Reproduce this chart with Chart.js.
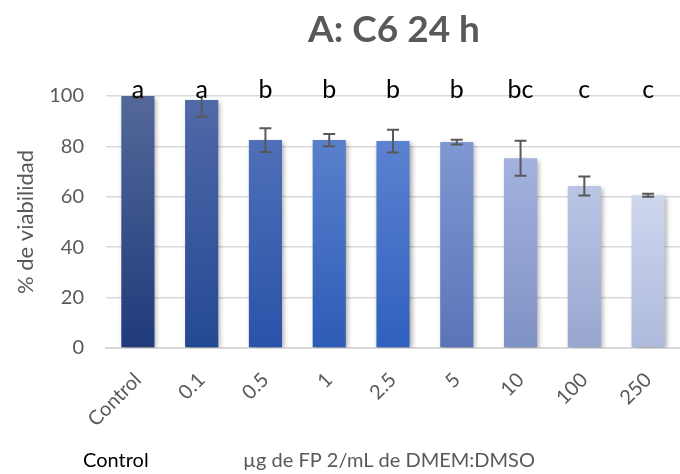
<!DOCTYPE html>
<html>
<head>
<meta charset="utf-8">
<script src="https://cdn.jsdelivr.net/npm/chart.js@4.4.1/dist/chart.umd.min.js"></script>
<style>
  html, body { margin: 0; padding: 0; background: #fff; }
  #wrap { width: 680px; height: 474px; position: relative; }
</style>
</head>
<body>
<div id="wrap"><canvas id="chart" width="680" height="474"></canvas></div>
<script>
const categories = ["Control", "0.1", "0.5", "1", "2.5", "5", "10", "100", "250"];
const viability = [100, 98.4, 82.5, 82.5, 82.1, 81.7, 75.3, 64.3, 60.6];
const errors = [0.7, 6.6, 4.7, 2.4, 4.5, 0.9, 6.9, 3.8, 0.6];
const letters = ["a", "a", "b", "b", "b", "b", "bc", "c", "c"];
const yTicks = [0, 20, 40, 60, 80, 100];

// top / bottom colour of each bar's gradient
const topColors = ["#54689a", "#5069a8", "#4f70b8", "#5a80cc", "#5c82d0", "#7f98d2", "#a3b2de", "#bac5e5", "#cfd7ee"];
const bottomColors = ["#1f3b7a", "#244994", "#2a52a8", "#2d5cb6", "#2f60be", "#5a74b8", "#7f92c6", "#98a6d0", "#aeb9dc"];

const GREY = "#595959";

function barGradient(ctx) {
  const chart = ctx.chart;
  const area = chart.chartArea;
  const i = ctx.dataIndex;
  if (!area) return bottomColors[i];
  const y = chart.scales.y;
  const top = y.getPixelForValue(viability[i]);
  const g = chart.ctx.createLinearGradient(0, top, 0, area.bottom);
  g.addColorStop(0, topColors[i]);
  g.addColorStop(1, bottomColors[i]);
  return g;
}

const shadowPlugin = {
  id: "shadow",
  beforeDatasetDraw(chart) {
    const c = chart.ctx;
    c.save();
    c.shadowColor = "rgba(0,0,0,0.35)";
    c.shadowBlur = 5;
    c.shadowOffsetX = 2;
    c.shadowOffsetY = 2;
  },
  afterDatasetDraw(chart) {
    chart.ctx.restore();
  }
};

const extrasPlugin = {
  id: "extras",
  afterDatasetsDraw(chart) {
    const c = chart.ctx;
    const area = chart.chartArea;
    const x = chart.scales.x;
    const y = chart.scales.y;

    // error bars, clipped to the plot area like Excel does
    c.save();
    c.beginPath();
    c.rect(area.left, area.top, area.right - area.left, area.bottom - area.top);
    c.clip();
    c.strokeStyle = GREY;
    c.lineWidth = 2;
    viability.forEach((v, i) => {
      const cx = x.getPixelForValue(i);
      const yHi = y.getPixelForValue(v + errors[i]);
      const yLo = y.getPixelForValue(v - errors[i]);
      c.beginPath();
      c.moveTo(cx, yHi); c.lineTo(cx, yLo);
      c.moveTo(cx - 6, yHi); c.lineTo(cx + 6, yHi);
      c.moveTo(cx - 6, yLo); c.lineTo(cx + 6, yLo);
      c.stroke();
    });
    c.restore();

    // significance letters
    c.save();
    c.fillStyle = "#000";
    c.font = "25px Lato";
    c.textAlign = "center";
    c.textBaseline = "alphabetic";
    letters.forEach((l, i) => {
      c.fillText(l, x.getPixelForValue(i), 98);
    });

    // title
    c.fillStyle = GREY;
    c.font = "bold 37px Lato";
    c.fillText("A: C6 24 h", 394, 42);

    // bottom labels
    c.textAlign = "left";
    c.font = "20px Lato";
    c.fillStyle = "#000";
    c.fillText("Control", 83, 467);
    c.fillStyle = GREY;
    c.fillText("µg de FP 2/mL de DMEM:DMSO", 243, 467);
    c.restore();
  }
};

new Chart(document.getElementById("chart"), {
  type: "bar",
  data: {
    labels: categories,
    datasets: [{
      data: viability,
      backgroundColor: barGradient,
      borderWidth: 0,
      barPercentage: 0.52,
      categoryPercentage: 1
    }]
  },
  options: {
    responsive: false,
    animation: false,
    layout: { padding: { top: 96, left: 0, right: -2, bottom: 30 } },
    plugins: { legend: { display: false }, tooltip: { enabled: false } },
    scales: {
      x: {
        grid: { display: false, drawTicks: false },
        border: { color: "#d9d9d9", width: 2 },
        ticks: {
          color: GREY,
          font: { family: "Lato", size: 20 },
          maxRotation: 45,
          minRotation: 45,
          padding: 20
        },
        afterFit(scale) {
          scale.height = 96;
          scale.paddingLeft = 0;
          scale.paddingRight = 0;
        }
      },
      y: {
        min: 0,
        max: 100,
        afterBuildTicks(scale) { scale.ticks = yTicks.map(v => ({ value: v })); },
        grid: { color: "#d9d9d9", lineWidth: 1.5, drawTicks: false },
        border: { display: false },
        ticks: {
          color: GREY,
          font: { family: "Lato", size: 20 },
          padding: 22
        },
        title: {
          display: true,
          text: "% de viabilidad",
          color: GREY,
          font: { family: "Lato", size: 22 },
          padding: { top: 13, bottom: 0 }
        },
        afterFit(scale) { scale.width = 106; }
      }
    }
  },
  plugins: [shadowPlugin, extrasPlugin]
});
</script>
</body>
</html>
